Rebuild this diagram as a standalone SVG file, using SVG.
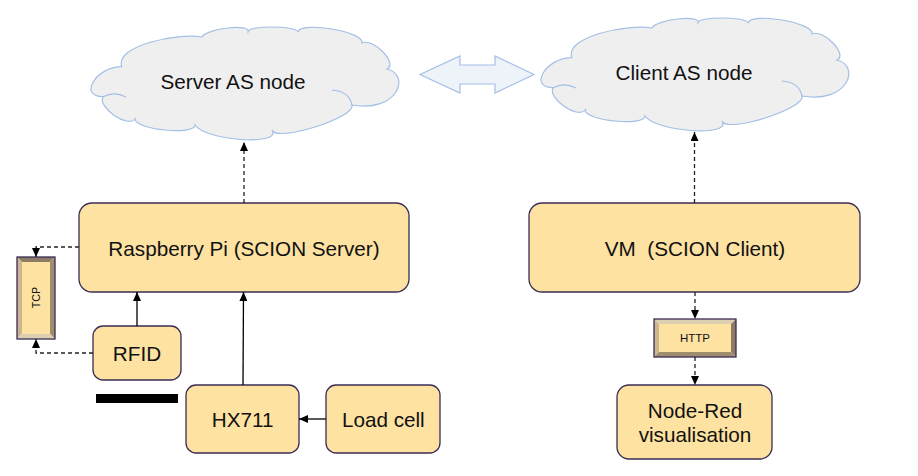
<svg xmlns="http://www.w3.org/2000/svg" width="918" height="476" viewBox="0 0 918 476">
<defs>
<marker id="arr" viewBox="0 0 9 8" refX="9" refY="4" markerWidth="9" markerHeight="8" orient="auto" markerUnits="userSpaceOnUse">
<path d="M0,0 L9,4 L0,8 z" fill="#000"/>
</marker>
<path id="cloudShape" d="M28.7,39.7 C22,18 85,6 109,10 C113,1.3 159,-3.7 155,5 C153.7,-1.7 203.7,-1.7 205,5 C207.7,-6.3 271.7,4.7 269,16 C280.3,10.7 305.3,36.7 294,42 C318,48 305,86 259,78 C263,90.7 183,115.7 179,103 C189.7,119 112.7,114 102,98 C102,108.7 42,102.7 42,92 C35.1,101.8 3.4,79.5 10.3,69.7 C-15.3,69.7 3.1,39.7 28.7,39.7 Z"/>
<path id="cloudInner" d="M10.3,69.7 Q21,64 33,70 M238.7,63 Q256,64 259,78"/>
</defs>
<style>
.box{fill:#fde2a1;stroke:#3b2c55;stroke-width:1.3}
.cloud{fill:#efefef;stroke:#a3bfe6;stroke-width:1.2}
.cin{fill:none;stroke:#a3bfe6;stroke-width:1.2}
.t{font-family:"Liberation Sans",Arial,sans-serif;font-size:20.7px;fill:#111;text-anchor:middle}
.s{font-family:"Liberation Sans",Arial,sans-serif;font-size:11px;fill:#111;text-anchor:middle}
.solid{fill:none;stroke:#000;stroke-width:1.3}
.dash{fill:none;stroke:#222;stroke-width:1.3;stroke-dasharray:4 3}
.bl1{fill:#ddd0b0}
.bl2{fill:#cbb690}
.bd1{fill:#9f8d6e}
.bd2{fill:#8c7c66}
.bout{fill:none;stroke:#3b2c55;stroke-width:1.3}
</style>
<rect width="918" height="476" fill="#fff"/>

<g id="server-cloud" transform="translate(93,27)">
<use href="#cloudShape" class="cloud"/>
<use href="#cloudInner" class="cin"/>
</g>
<text class="t" x="233" y="88.5">Server AS node</text>

<g id="client-cloud">
<g transform="translate(543,18)">
<use href="#cloudShape" class="cloud"/>
<use href="#cloudInner" class="cin"/>
</g>
<text class="t" x="684" y="80">Client AS node</text>
</g>

<g id="link-arrow">
<polygon points="420,74.5 460,56 460,65 495,65 495,56 534,74.5 495,93 495,84 460,84 460,93" fill="#eef2f9" stroke="#a3bfe6" stroke-width="1.2"/>
</g>

<g id="raspberry">
<rect class="box" x="79" y="203" width="330" height="89" rx="13"/>
<text class="t" x="244" y="256">Raspberry Pi (SCION Server)</text>
</g>

<g id="vm">
<rect class="box" x="529" y="203" width="331" height="89" rx="13"/>
<text class="t" x="695" y="256" style="white-space:pre" xml:space="preserve">VM  (SCION Client)</text>
</g>

<g id="tcp">
<polygon class="bd2" points="17,257 55,257 50,262 22,262"/>
<polygon class="bl2" points="17,257 22,262 22,334 17,339"/>
<polygon class="bd1" points="55,257 55,339 50,334 50,262"/>
<polygon class="bl1" points="17,339 22,334 50,334 55,339"/>
<rect x="22" y="262" width="28" height="72" fill="#fde2a1"/>
<rect class="bout" x="17" y="257" width="38" height="82"/>
<text class="s" transform="translate(40,297.5) rotate(-90)" x="0" y="0" style="font-size:10.8px">TCP</text>
</g>

<g id="rfid">
<rect class="box" x="93" y="326" width="88" height="54" rx="10"/>
<text class="t" x="137" y="360.7">RFID</text>
</g>

<g id="bar">
<rect x="96" y="394" width="82" height="9" fill="#000"/>
</g>

<g id="hx711">
<rect class="box" x="186" y="385" width="113" height="68" rx="10"/>
<text class="t" x="242.7" y="426.7">HX711</text>
</g>

<g id="loadcell">
<rect class="box" x="326" y="385" width="114" height="68" rx="10"/>
<text class="t" x="383.3" y="426.7">Load cell</text>
</g>

<g id="http">
<polygon class="bl1" points="654,319 736,319 731,324 659,324"/>
<polygon class="bl2" points="654,319 659,324 659,352 654,357"/>
<polygon class="bd2" points="736,319 736,357 731,352 731,324"/>
<polygon class="bd1" points="654,357 659,352 731,352 736,357"/>
<rect x="659" y="324" width="72" height="28" fill="#fde2a1"/>
<rect class="bout" x="654" y="319" width="82" height="38"/>
<text class="s" x="695" y="342.3" style="font-size:11.5px">HTTP</text>
</g>

<g id="nodered">
<rect class="box" x="617" y="385" width="155" height="74" rx="12"/>
<text class="t" x="695" y="417.7">Node-Red</text>
<text class="t" x="695" y="441.7">visualisation</text>
</g>

<g id="connectors">
<path class="dash" d="M244,203 V142" marker-end="url(#arr)"/>
<path class="dash" d="M694.5,203 V132" marker-end="url(#arr)"/>
<path class="dash" d="M79,247 H36 V257" marker-end="url(#arr)"/>
<path class="dash" d="M93,353 H36 V339" marker-end="url(#arr)"/>
<path class="solid" d="M137,326 V292" marker-end="url(#arr)"/>
<path class="solid" d="M243,385 L243.5,292" marker-end="url(#arr)"/>
<path class="solid" d="M326,419 H299" marker-end="url(#arr)"/>
<path class="dash" d="M695,292 V319" marker-end="url(#arr)"/>
<path class="dash" d="M695,357 V385" marker-end="url(#arr)"/>
</g>
</svg>
